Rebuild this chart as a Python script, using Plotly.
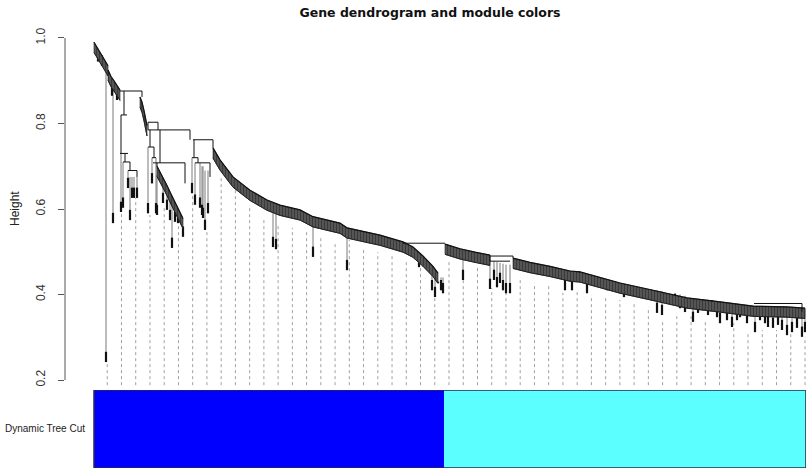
import plotly.graph_objects as go

# ---------------- data (leaf order units on x, merge height on y) ----------------
N_LEAVES = 712
HANG = 0.024          # leaf hang below merge height
GUIDE_BASE = 0.188    # guides run down to this height
N_GUIDES = 50

# dense, chained parts of the tree (top edge); None separates segments
band_x = [0, 3, 6, 9, 12, 14, None,
          14, 17, 20, 23, 26, None,
          46, 48, 50, 52, 53, None,
          63, 69, 73, 77, 81, 85, 89, None,
          119, 126, 139, 156, 173, 186, 206, 219, 246, 253, 286, 309, 319, 329, 339, 344, None,
          351, 366, 381, 396, None,
          419, 436, 456, 476, 486, 526, 559, 593, 626, 659, 693, 711]
band_h = [0.990, 0.978, 0.967, 0.957, 0.945, 0.935, None,
          0.925, 0.910, 0.900, 0.888, 0.878, None,
          0.862, 0.850, 0.830, 0.810, 0.795, None,
          0.700, 0.675, 0.655, 0.635, 0.615, 0.598, 0.578, None,
          0.743, 0.715, 0.675, 0.644, 0.621, 0.609, 0.598, 0.582, 0.567, 0.556, 0.539, 0.523, 0.511, 0.490, 0.466, 0.450, None,
          0.518, 0.507, 0.499, 0.492, None,
          0.485, 0.475, 0.466, 0.455, 0.453, 0.427, 0.410, 0.392, 0.383, 0.373, 0.371, 0.368]

# horizontal merge lines
hz_x0 = [26, 54, 54, 99, 309, 396, 27, 26, 29, 34, 54, 58, 59, 98, 101, 396, 660]
hz_x1 = [48, 96, 64, 119, 351, 419, 33, 34, 36, 43, 60, 62, 91, 104, 116, 416, 708]
hz_h = [0.876, 0.785, 0.803, 0.762, 0.520, 0.490, 0.820, 0.730, 0.710, 0.690, 0.745, 0.720, 0.708, 0.720, 0.708, 0.478, 0.379]

# vertical link lines
lk_x = [48, 96, 119, 30, 27, 31, 36, 43, 54, 64, 56, 60, 66, 63, 91, 100, 104, 116, 708, 396, 419]
lk_top = [0.876, 0.785, 0.762, 0.876, 0.820, 0.730, 0.710, 0.690, 0.803, 0.803, 0.785, 0.745, 0.785, 0.708, 0.708, 0.762, 0.720, 0.708, 0.379, 0.492, 0.490]
lk_bot = [0.862, 0.762, 0.743, 0.820, 0.730, 0.710, 0.690, 0.675, 0.785, 0.785, 0.745, 0.720, 0.708, 0.700, 0.660, 0.720, 0.708, 0.675, 0.360, 0.478, 0.485]

# hanging leaves / side branches
lf_x = [4, 8, 18, 23, 12, 19,
        27, 29, 34, 36, 38, 40, 43,
        54, 58, 62,
        63, 69, 73, 76, 78, 81, 84, 87, 89,
        98, 101, 106, 108, 109, 111, 114,
        179, 182, 219, 253, 325,
        338, 341, 344, 347, 349,
        369, 396, 400, 403, 406, 409, 412, 416,
        471, 478, 493, 513, 530,
        563, 568, 581, 586, 591, 599, 604, 609, 614, 618, 623, 626, 633, 638, 643,
        646, 653, 661, 666, 671, 674, 679, 684, 688, 693, 698, 703, 708, 711]
lf_top = [0.975, 0.960, 0.905, 0.888, 0.930, 0.903,
          0.730, 0.710, 0.690, 0.675, 0.675, 0.675, 0.675,
          0.745, 0.720, 0.720,
          0.680, 0.655, 0.635, 0.620, 0.612, 0.595, 0.585, 0.572, 0.560,
          0.720, 0.708, 0.708, 0.700, 0.700, 0.690, 0.690,
          0.610, 0.607, 0.582, 0.556, 0.490,
          0.450, 0.440, 0.430, 0.440, 0.440,
          0.505, 0.480, 0.478, 0.476, 0.474, 0.472, 0.470, 0.470,
          0.457, 0.455, 0.448, 0.435, 0.425,
          0.410, 0.408, 0.402, 0.400, 0.397, 0.392, 0.390, 0.389, 0.388, 0.387, 0.385, 0.383, 0.381, 0.380, 0.378,
          0.377, 0.375, 0.373, 0.373, 0.372, 0.372, 0.372, 0.371, 0.371, 0.371, 0.370, 0.370, 0.369, 0.368]
lf_bot = [0.945, 0.935, 0.865, 0.855, 0.242, 0.567,
          0.593, 0.603, 0.649, 0.574, 0.626, 0.626, 0.626,
          0.590, 0.660, 0.590,
          0.586, 0.614, 0.598, 0.574, 0.509, 0.570, 0.567, 0.574, 0.535,
          0.637, 0.610, 0.603, 0.586, 0.579, 0.551, 0.590,
          0.511, 0.506, 0.488, 0.457, 0.464,
          0.410, 0.394, 0.427, 0.410, 0.403,
          0.434, 0.413, 0.434, 0.417, 0.427, 0.410, 0.403, 0.403,
          0.410, 0.410, 0.403, 0.410, 0.394,
          0.357, 0.352, 0.380, 0.368, 0.359, 0.336, 0.357, 0.364, 0.352, 0.364, 0.347, 0.333, 0.340, 0.324, 0.340,
          0.347, 0.333, 0.312, 0.340, 0.333, 0.324, 0.322, 0.329, 0.317, 0.305, 0.312, 0.322, 0.301, 0.312]

# height reached by each of the 50 guide lines
guide_top = [0.240, 0.593, 0.626, 0.586, 0.609, 0.563, 0.637, 0.546, 0.675, 0.644,
             0.609, 0.581, 0.567, 0.556, 0.546, 0.535, 0.521, 0.528, 0.509, 0.499,
             0.492, 0.476, 0.464, 0.394, 0.476, 0.434, 0.462, 0.415, 0.404, 0.441,
             0.427, 0.422, 0.404, 0.406, 0.399, 0.394, 0.387, 0.380, 0.371, 0.340,
             0.357, 0.357, 0.340, 0.310, 0.333, 0.310, 0.317, 0.317, 0.310, 0.301]

module_names = ["blue", "turquoise"]
module_colors = ["#0000FE", "#5CFFFF"]
module_sizes = [350, 362]

y_ticks = [0.2, 0.4, 0.6, 0.8, 1.0]

# ---------------- figure ----------------
fig = go.Figure()

# guides
gx, gy = [], []
step = N_LEAVES / N_GUIDES
for k, top in enumerate(guide_top):
    xg = step * (k + 1) - 1
    gx += [xg, xg, None]
    gy += [GUIDE_BASE, top, None]
fig.add_trace(go.Scatter(x=gx, y=gy, mode="lines", line=dict(color="#a0a0a0", width=1, dash="dot"),
                         hoverinfo="skip", showlegend=False))

# leaves: full line then dark hang at the bottom
lx, ly, hx, hy = [], [], [], []
for x, t, b in zip(lf_x, lf_top, lf_bot):
    lx += [x, x, None]
    ly += [t, b, None]
    hx += [x, x, None]
    hy += [min(t, b + HANG), b, None]
fig.add_trace(go.Scatter(x=lx, y=ly, mode="lines", line=dict(color="#7a7a7a", width=1),
                         hoverinfo="skip", showlegend=False))
fig.add_trace(go.Scatter(x=hx, y=hy, mode="lines", line=dict(color="#111111", width=2.2),
                         hoverinfo="skip", showlegend=False))

# dense bands
segs, cur = [], []
for x, h in zip(band_x + [None], band_h + [None]):
    if x is None:
        if cur:
            segs.append(cur)
        cur = []
    else:
        cur.append((x, h))
px_, py_, tx, ty, bx, by = [], [], [], [], [], []
for s in segs:
    xs = [p[0] for p in s]
    hs = [p[1] for p in s]
    px_ += xs + xs[::-1] + [xs[0], None]
    py_ += hs + [h - HANG for h in hs[::-1]] + [hs[0], None]
    tx += xs + [None]
    ty += hs + [None]
    bx += xs + [None]
    by += [h - HANG for h in hs] + [None]
fig.add_trace(go.Scatter(x=px_, y=py_, mode="lines", fill="toself",
                         fillcolor="#3a3a3a",
                         fillpattern=dict(shape="|", bgcolor="#5e5e5e", fgcolor="#151515", size=3, solidity=0.5),
                         line=dict(color="#222222", width=0.6),
                         hoverinfo="skip", showlegend=False))
fig.add_trace(go.Scatter(x=tx, y=ty, mode="lines", line=dict(color="#111111", width=1.2),
                         hoverinfo="skip", showlegend=False))
fig.add_trace(go.Scatter(x=bx, y=by, mode="lines", line=dict(color="#222222", width=1),
                         hoverinfo="skip", showlegend=False))

# links
vx, vy = [], []
for x, t, b in zip(lk_x, lk_top, lk_bot):
    vx += [x, x, None]
    vy += [t, b, None]
for x0, x1, h in zip(hz_x0, hz_x1, hz_h):
    vx += [x0, x1, None]
    vy += [h, h, None]
fig.add_trace(go.Scatter(x=vx, y=vy, mode="lines", line=dict(color="#111111", width=1),
                         hoverinfo="skip", showlegend=False))

# module color bar
starts = [sum(module_sizes[:i]) for i in range(len(module_sizes))]
fig.add_trace(go.Bar(x=[s + w / 2 for s, w in zip(starts, module_sizes)], y=[1] * len(module_sizes),
                     width=module_sizes, base=0, marker=dict(color=module_colors, line=dict(width=0)),
                     text=module_names, textposition="none", hoverinfo="text",
                     xaxis="x2", yaxis="y2", showlegend=False))

fig.add_shape(type="rect", xref="x2", yref="y2", x0=0, x1=N_LEAVES, y0=0, y1=1,
              line=dict(color="#2a2a50", width=1.5))
fig.add_shape(type="line", xref="paper", yref="y", x0=0, x1=0, y0=0.2, y1=1.0,
              line=dict(color="#555555", width=1))

fig.update_layout(
    width=808, height=470,
    margin=dict(l=65, r=2, t=30, b=2, autoexpand=False),
    paper_bgcolor="white", plot_bgcolor="white",
    bargap=0,
    title=dict(text="<b>Gene dendrogram and module colors</b>", x=(430 - 65) / 741, xref="paper",
               xanchor="center", y=1 - 13 / 470, yanchor="middle", automargin=False,
               font=dict(family="DejaVu Sans", size=12.5, color="#111111")),
    xaxis=dict(domain=[0, 1], range=[-29, N_LEAVES], visible=False, anchor="y"),
    yaxis=dict(domain=[0.1872, 1], range=[0.186, 1.0187], anchor="x", automargin=False,
               tickvals=y_ticks, ticktext=["0.2", "0.4", "0.6", "0.8", "1.0"],
               tickangle=-90, ticks="outside", ticklen=6, tickcolor="#555555",
               showgrid=False, zeroline=False, showline=False,
               ticklabelstandoff=8,
               tickfont=dict(family="Liberation Sans", size=12, color="#333333")),
    xaxis2=dict(domain=[0, 1], range=[-29, N_LEAVES], visible=False, anchor="y2", matches="x"),
    yaxis2=dict(domain=[0, 0.1781], range=[0, 1], visible=False, anchor="x2"),
    annotations=[
        dict(text="Height", xref="paper", yref="y", x=(15 - 65) / 741, y=0.6, showarrow=False,
             xanchor="center", yanchor="middle",
             textangle=-90, font=dict(family="Liberation Sans", size=12, color="#222222")),
        dict(text="Dynamic Tree Cut", xref="paper", yref="y2", x=(3 - 65) / 741, xanchor="left",
             y=0.5, showarrow=False,
             font=dict(family="Liberation Sans", size=10, color="#222222")),
    ],
)

fig.write_html("out.html", config={"displayModeBar": False},
               post_script="document.body.style.margin='0';")
